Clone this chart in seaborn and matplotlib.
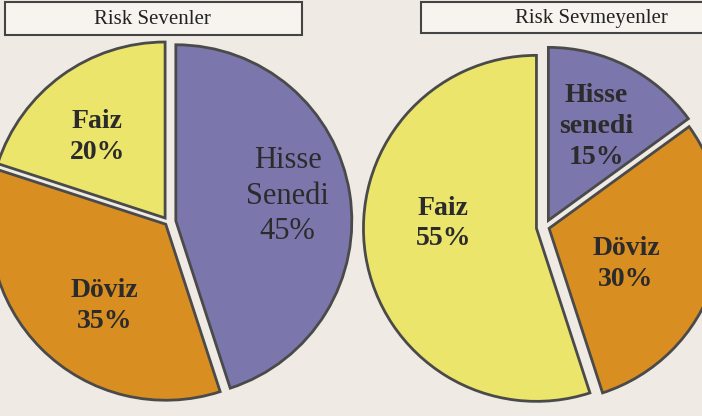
import numpy as np
import matplotlib
matplotlib.use("Agg")
import matplotlib.pyplot as plt
from matplotlib.patches import Rectangle
import seaborn as sns

sns.set_theme(style="white")
plt.rcParams["font.family"] = ["Liberation Serif", "DejaVu Serif"]

# data (wedges drawn clockwise from 12 o'clock)
titles = ["Risk Sevenler", "Risk Sevmeyenler"]
left_names = ["Hisse\nSenedi", "Döviz", "Faiz"]
left_shares = [45, 35, 20]
right_names = ["Hisse\nsenedi", "Döviz", "Faiz"]
right_shares = [15, 30, 55]

palette = {"Hisse": "#7b76ab", "Döviz": "#d98e22", "Faiz": "#ece56c"}
paper = "#efebe4"
edge = "#4a4a4a"

W, H = 702, 416
fig = plt.figure(figsize=(W / 100, H / 100), dpi=100, facecolor=paper)


def pie_axes(cx, cy, r, lim=1.15):
    # cx, cy in pixels from top-left, r = pie radius in pixels
    half = lim * r
    ax = fig.add_axes([(cx - half) / W, (H - cy - half) / H, 2 * half / W, 2 * half / H])
    ax.set_xlim(-lim, lim)
    ax.set_ylim(-lim, lim)
    return ax


def draw_pie(ax, names, shares, explode, label_style):
    cols = [palette[n.split("\n")[0]] for n in names]
    wedges, _ = ax.pie(shares, colors=cols, startangle=90, counterclock=False,
                       explode=explode, radius=1,
                       wedgeprops=dict(edgecolor=edge, linewidth=2))
    for w, n, s, (dist, nudge, size, weight) in zip(wedges, names, shares, label_style):
        ang = np.deg2rad((w.theta1 + w.theta2) / 2 + nudge)
        x = w.center[0] + dist * np.cos(ang)
        y = w.center[1] + dist * np.sin(ang)
        ax.text(x, y, f"{n}\n{s}%", ha="center", va="center", fontsize=size,
                fontweight=weight, color="#2b2b2b", linespacing=1.3)
    ax.set_xlim(-1.15, 1.15)
    ax.set_ylim(-1.15, 1.15)
    ax.set_aspect("equal")
    ax.axis("off")


ax1 = pie_axes(168, 222, 176)
draw_pie(ax1, left_names, left_shares, [0.045, 0.018, 0.028],
         [(0.65, 3.5, 22, "normal"), (0.58, 8, 20, "bold"), (0.60, 4, 20, "bold")])

ax2 = pie_axes(545, 227, 173)
draw_pie(ax2, right_names, right_shares, [0.043, 0.025, 0.05],
         [(0.61, 0, 20, "bold"), (0.49, -7, 20, "bold"), (0.54, -12, 20, "bold")])

# title boxes
for (x0, x1, y0, y1), t in zip([(5, 302, 2, 35), (421, 712, 2, 33)], titles):
    fig.add_artist(Rectangle((x0 / W, 1 - y1 / H), (x1 - x0) / W, (y1 - y0) / H,
                             transform=fig.transFigure, facecolor="#f7f4ef",
                             edgecolor="#444444", linewidth=1.5))
for (cx, cy), t in zip([(152, 19), (591, 19)], titles):
    fig.text(cx / W, 1 - cy / H, t, ha="center", va="center", fontsize=15, color="#222222")

fig.savefig("out.png", dpi=100, facecolor=paper)
